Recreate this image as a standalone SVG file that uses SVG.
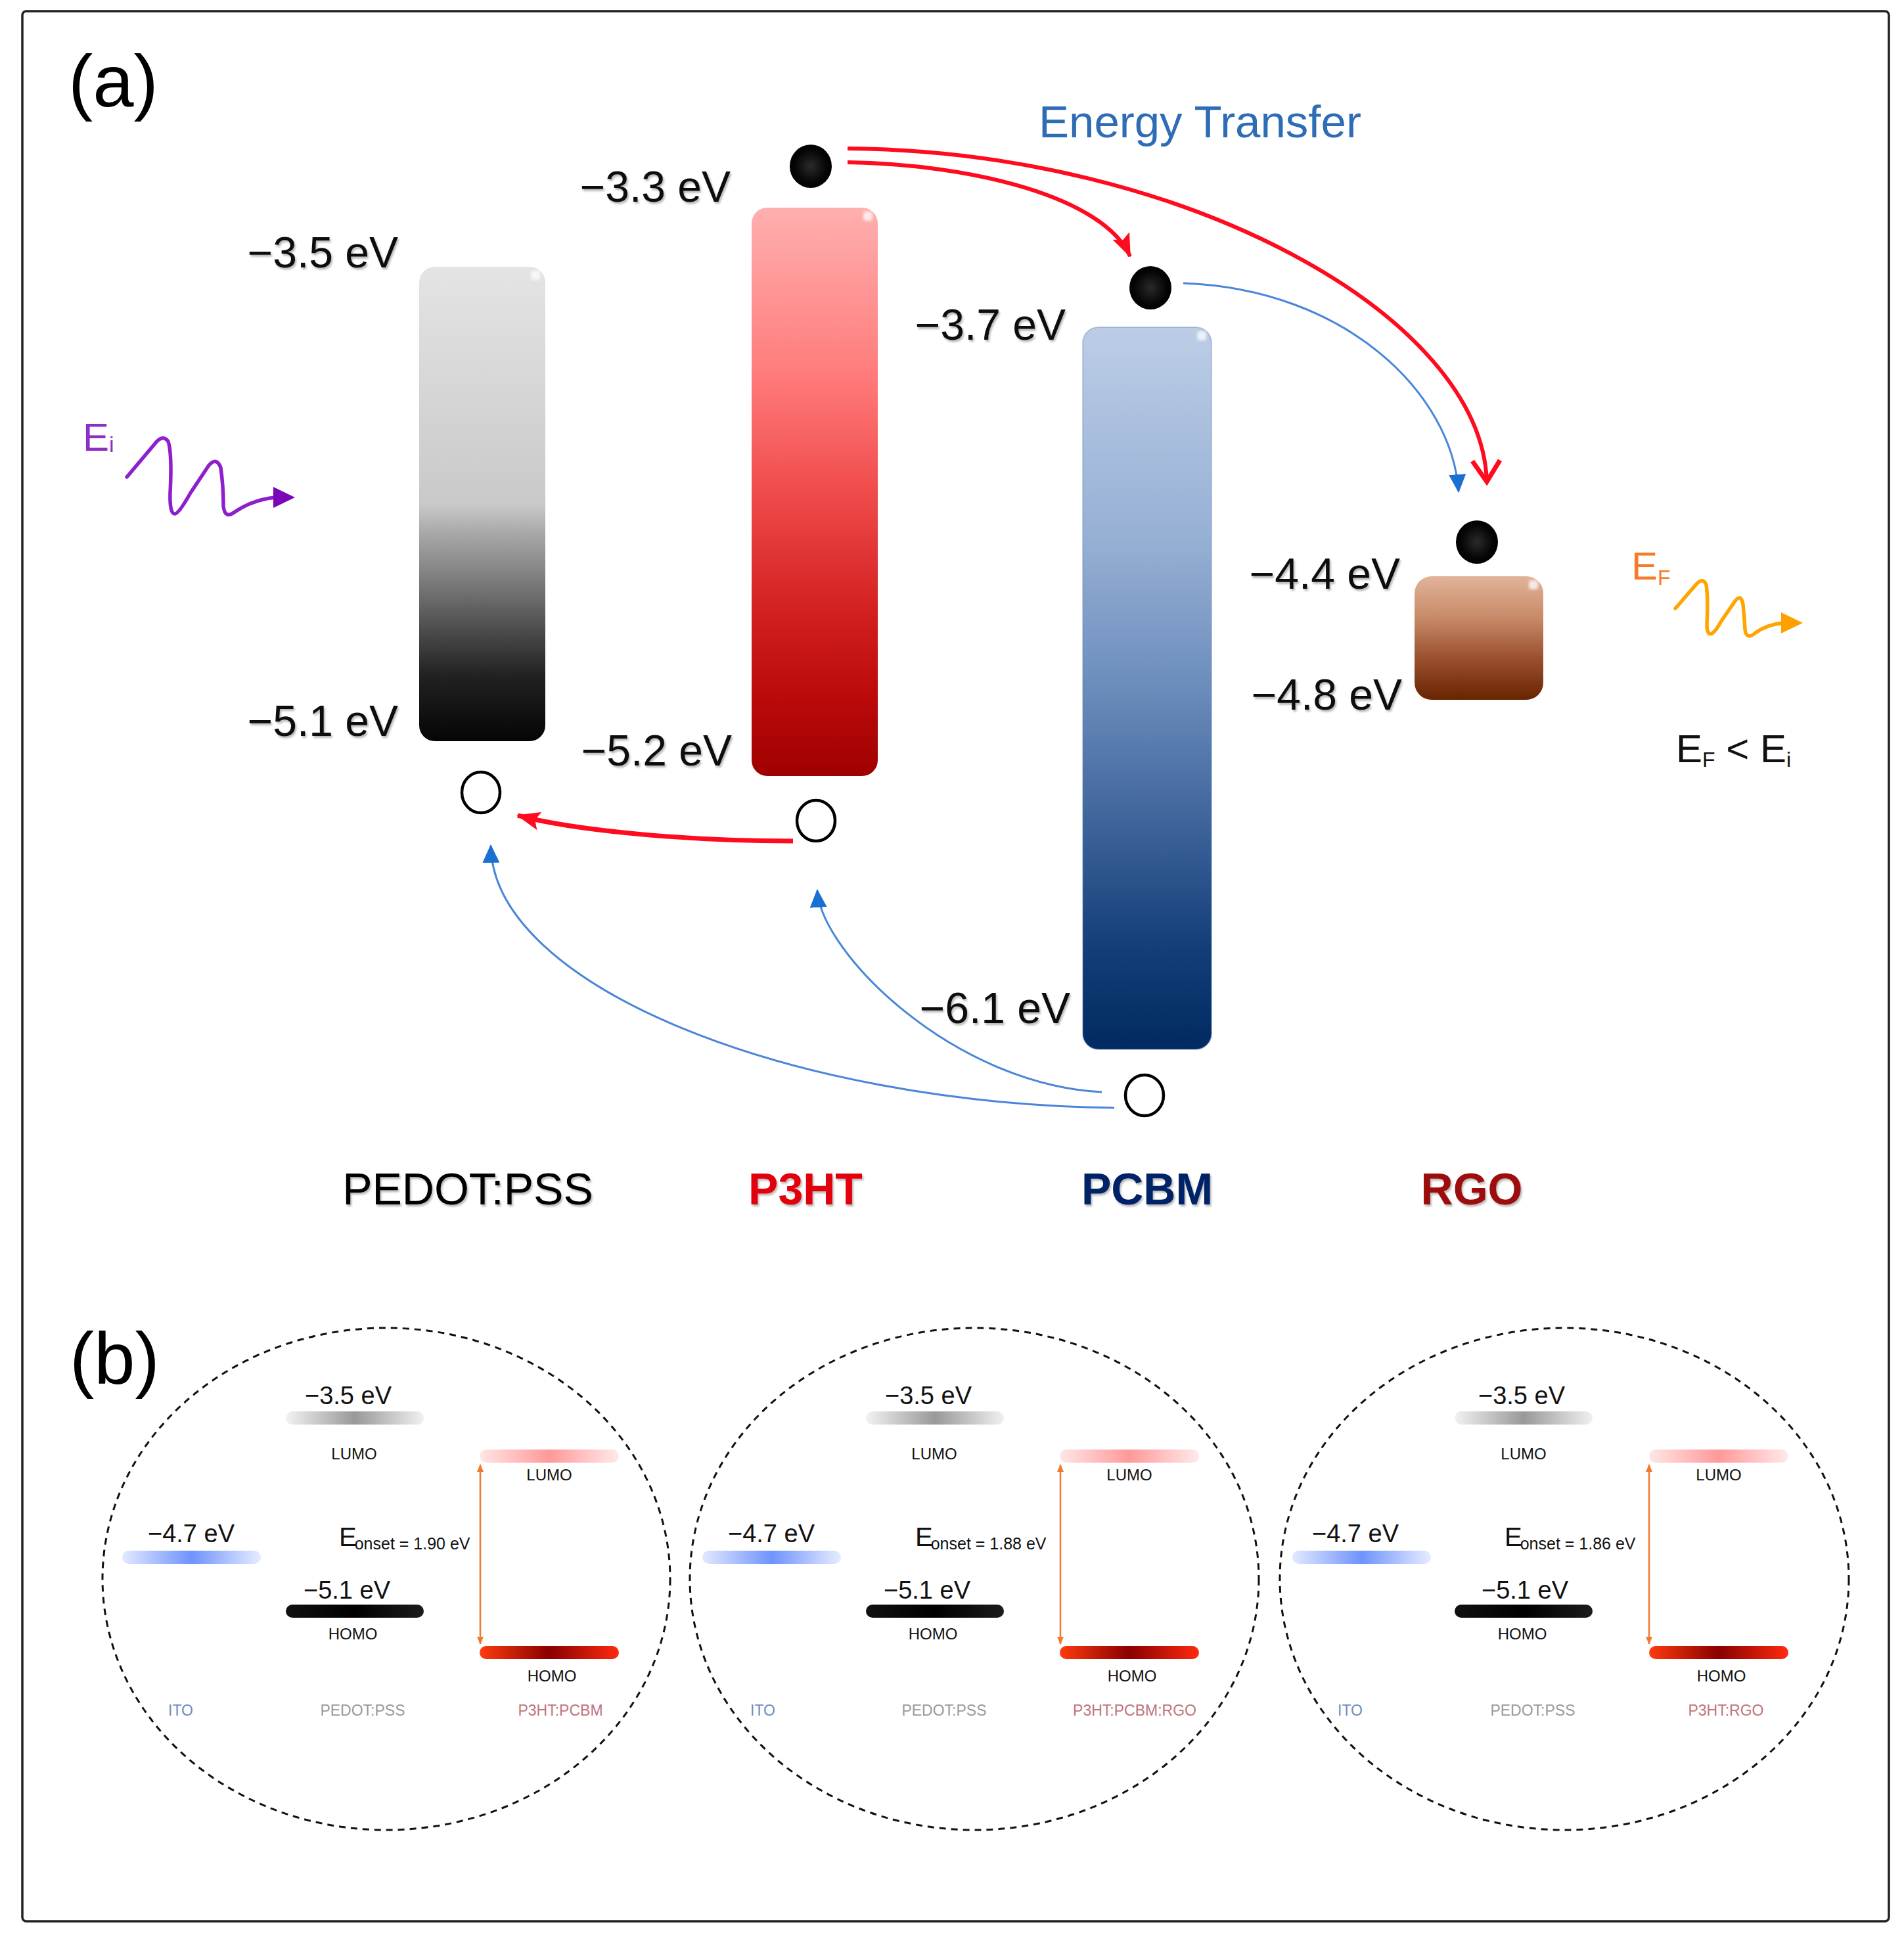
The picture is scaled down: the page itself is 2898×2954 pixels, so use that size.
<svg xmlns="http://www.w3.org/2000/svg" width="2898" height="2954" viewBox="0 0 2898 2954">
<style>
text{font-family:"Liberation Sans",Arial,sans-serif}
.ev{font-size:66px;fill:#111;text-anchor:end;filter:url(#ts)}
.mat{font-size:68px;text-anchor:middle;filter:url(#ts)}
.sev{font-size:38px;fill:#111;text-anchor:middle}
.orb{font-size:24px;fill:#111;text-anchor:middle}
.lay{font-size:23px;text-anchor:middle}
.hole{fill:#fff;stroke:#000;stroke-width:4.5}
.el{fill:url(#gEl)}
.circ{fill:none;stroke:#111;stroke-width:3;stroke-dasharray:10 8}
.eg{fill:none;stroke:#f07a30;stroke-width:2.5;marker-start:url(#mOr);marker-end:url(#mOr)}
.hl{fill:#fff;opacity:0.75;filter:url(#blur)}
</style>
<defs>
<filter id="ts" x="-5%" y="-20%" width="115%" height="150%"><feDropShadow dx="2" dy="3" stdDeviation="1.5" flood-color="#000" flood-opacity="0.28"/></filter>
<filter id="blur"><feGaussianBlur stdDeviation="2"/></filter>
<linearGradient id="gGray" x1="0" y1="0" x2="0" y2="1">
<stop offset="0" stop-color="#e4e4e4"/><stop offset="0.5" stop-color="#c9c9c9"/><stop offset="0.56" stop-color="#a9a9a9"/><stop offset="0.7" stop-color="#6a6a6a"/><stop offset="0.86" stop-color="#222"/><stop offset="1" stop-color="#050505"/>
</linearGradient>
<linearGradient id="gRed" x1="0" y1="0" x2="0" y2="1">
<stop offset="0" stop-color="#ffafaf"/><stop offset="0.3" stop-color="#ff7a7a"/><stop offset="0.5" stop-color="#f04b4b"/><stop offset="0.7" stop-color="#d42222"/><stop offset="0.86" stop-color="#bb0a0a"/><stop offset="1" stop-color="#a00000"/>
</linearGradient>
<linearGradient id="gBlue" x1="0" y1="0" x2="0" y2="1">
<stop offset="0" stop-color="#bccde6"/><stop offset="0.3" stop-color="#95afd4"/><stop offset="0.5" stop-color="#6b8cbb"/><stop offset="0.7" stop-color="#3b6199"/><stop offset="0.86" stop-color="#133e78"/><stop offset="1" stop-color="#002a60"/>
</linearGradient>
<linearGradient id="gBrown" x1="0" y1="0" x2="0" y2="1">
<stop offset="0" stop-color="#e2b39a"/><stop offset="0.35" stop-color="#c68866"/><stop offset="0.65" stop-color="#9c5230"/><stop offset="1" stop-color="#682400"/>
</linearGradient>
<radialGradient id="gEl" cx="0.5" cy="0.5" r="0.55">
<stop offset="0" stop-color="#2a2a2a"/><stop offset="0.7" stop-color="#050505"/><stop offset="1" stop-color="#000"/>
</radialGradient>
<linearGradient id="pGray" x1="0" y1="0" x2="1" y2="0">
<stop offset="0" stop-color="#f2f2f2"/><stop offset="0.5" stop-color="#999"/><stop offset="1" stop-color="#f0f0f0"/>
</linearGradient>
<linearGradient id="pBlack" x1="0" y1="0" x2="1" y2="0">
<stop offset="0" stop-color="#111"/><stop offset="0.5" stop-color="#000"/><stop offset="1" stop-color="#1c1c1c"/>
</linearGradient>
<linearGradient id="pBlue" x1="0" y1="0" x2="1" y2="0">
<stop offset="0" stop-color="#e2e9ff"/><stop offset="0.5" stop-color="#6f93ff"/><stop offset="1" stop-color="#e6ecff"/>
</linearGradient>
<linearGradient id="pPink" x1="0" y1="0" x2="1" y2="0">
<stop offset="0" stop-color="#ffe6e6"/><stop offset="0.5" stop-color="#ff9999"/><stop offset="1" stop-color="#ffeaea"/>
</linearGradient>
<linearGradient id="pRed" x1="0" y1="0" x2="1" y2="0">
<stop offset="0" stop-color="#ff3a10"/><stop offset="0.5" stop-color="#8a0000"/><stop offset="1" stop-color="#ff2a10"/>
</linearGradient>
<marker id="mRed" viewBox="0 0 36 28" refX="34" refY="14" markerWidth="36" markerHeight="28" markerUnits="userSpaceOnUse" orient="auto">
<path d="M0,0 L36,14 L0,28 L7,14 z" fill="#ff0a1e"/>
</marker>
<marker id="mRedV" viewBox="-6 -6 46 54" refX="32" refY="21" markerWidth="46" markerHeight="54" markerUnits="userSpaceOnUse" orient="auto">
<path d="M0,0 L32,21 L0,42" fill="none" stroke="#ff0a1e" stroke-width="7"/>
</marker>
<marker id="mBlue" viewBox="0 0 28 26" refX="26" refY="13" markerWidth="28" markerHeight="26" markerUnits="userSpaceOnUse" orient="auto">
<path d="M0,0 L28,13 L0,26 z" fill="#1a6fd1"/>
</marker>
<marker id="mOr" viewBox="0 0 12 10" refX="11" refY="5" markerWidth="12" markerHeight="10" markerUnits="userSpaceOnUse" orient="auto-start-reverse">
<path d="M0,0 L12,5 L0,10 z" fill="#f07a30"/>
</marker>
</defs>

<rect x="34" y="17" width="2841" height="2907" rx="6" fill="#fff" stroke="#222" stroke-width="3.5"/>

<text x="104" y="162" font-size="112" fill="#000">(a)</text>

<g id="pedot-bar">
<rect x="638" y="406" width="192" height="722" rx="24" fill="url(#gGray)"/>
<rect class="hl" x="808" y="412" width="14" height="14" rx="4"/>
<text class="ev" x="606" y="407">−3.5 eV</text>
<text class="ev" x="606" y="1120">−5.1 eV</text>
</g>
<g id="p3ht-bar">
<rect x="1144" y="316" width="192" height="865" rx="24" fill="url(#gRed)"/>
<rect class="hl" x="1314" y="322" width="14" height="14" rx="4"/>
<text class="ev" x="1112" y="307">−3.3 eV</text>
<text class="ev" x="1114" y="1165">−5.2 eV</text>
</g>
<g id="pcbm-bar">
<rect x="1648" y="498" width="196" height="1099" rx="24" fill="url(#gBlue)" stroke="#5a7fb5" stroke-opacity="0.35" stroke-width="2"/>
<rect class="hl" x="1822" y="504" width="14" height="14" rx="4"/>
<text class="ev" x="1622" y="517">−3.7 eV</text>
<text class="ev" x="1629" y="1557">−6.1 eV</text>
</g>
<g id="rgo-box">
<rect x="2153" y="877" width="196" height="188" rx="26" fill="url(#gBrown)"/>
<rect class="hl" x="2327" y="883" width="14" height="14" rx="4"/>
<text class="ev" x="2131" y="896">−4.4 eV</text>
<text class="ev" x="2134" y="1080">−4.8 eV</text>
</g>

<g id="electron-p3ht"><ellipse class="el" cx="1234" cy="253" rx="32" ry="33"/></g>
<g id="electron-pcbm"><ellipse class="el" cx="1751" cy="438" rx="32" ry="33"/></g>
<g id="electron-rgo"><ellipse class="el" cx="2248" cy="825" rx="32" ry="33"/></g>
<g id="hole-pedot"><ellipse class="hole" cx="732" cy="1206" rx="29" ry="31"/></g>
<g id="hole-p3ht"><ellipse class="hole" cx="1242" cy="1249" rx="29" ry="31"/></g>
<g id="hole-pcbm"><ellipse class="hole" cx="1742" cy="1667" rx="29" ry="31"/></g>

<g id="title-energy-transfer">
<text x="1581" y="209" font-size="69" fill="#2e6cb5">Energy Transfer</text>
</g>

<g id="photon-in">
<text x="126" y="686" font-size="60" fill="#8e2ec4">E<tspan font-size="34" dy="2">i</tspan></text>
<path d="M193,726 L236,675 Q248,660 256,672 Q262,690 259,750 Q258,782 266,782 Q272,782 290,750 L318,708 Q330,695 336,712 Q340,740 340,770 Q342,790 356,780 Q385,760 420,757" fill="none" stroke="#8e1fcc" stroke-width="5.5" stroke-linecap="round" stroke-linejoin="round"/>
<polygon points="416,741 449,757 416,773" fill="#7a06b8"/>
</g>
<g id="photon-out">
<text x="2483" y="882" font-size="60" fill="#f57a2a">E<tspan font-size="32" dy="8">F</tspan></text>
<path d="M2550,926 L2582,889 Q2592,878 2597,890 Q2600,910 2598,950 Q2598,968 2606,964 Q2612,960 2620,945 L2640,916 Q2650,902 2653,920 Q2655,940 2656,958 Q2658,975 2672,963 Q2690,950 2715,948" fill="none" stroke="#ffa400" stroke-width="5.5" stroke-linecap="round" stroke-linejoin="round"/>
<polygon points="2711,932 2744,948 2711,964" fill="#ffa000"/>
</g>
<g id="relation">
<text x="2551" y="1160" font-size="60" fill="#111">E<tspan font-size="32" dy="7">F</tspan><tspan dy="-7"> &lt; E</tspan><tspan font-size="32" dy="7">i</tspan></text>
</g>

<g id="material-labels">
<text class="mat" x="712" y="1833" fill="#000" font-size="64">PEDOT:PSS</text>
<text class="mat" x="1226" y="1833" fill="#e3000f" font-weight="bold">P3HT</text>
<text class="mat" x="1746" y="1833" fill="#002366" font-weight="bold">PCBM</text>
<text class="mat" x="2240" y="1833" fill="#9e0a0a" font-weight="bold">RGO</text>
</g>

<g id="connectors">
<path d="M1290,247 C1480,250 1680,300 1720,390" fill="none" stroke="#ff0a1e" stroke-width="6" marker-end="url(#mRed)"/>
<path d="M1290,226 C1800,230 2255,480 2263,733" fill="none" stroke="#ff0a1e" stroke-width="6" marker-end="url(#mRedV)"/>
<path d="M1801,431 C2050,440 2210,600 2220,748" fill="none" stroke="#4a86d8" stroke-width="3" marker-end="url(#mBlue)"/>
<path d="M1207,1280 C1050,1280 880,1265 788,1241" fill="none" stroke="#ff0a1e" stroke-width="7" marker-end="url(#mRed)"/>
<path d="M1696,1686 C1200,1680 750,1500 747,1287" fill="none" stroke="#4a86d8" stroke-width="3" marker-end="url(#mBlue)"/>
<path d="M1677,1662 C1450,1650 1250,1450 1244,1355" fill="none" stroke="#4a86d8" stroke-width="3" marker-end="url(#mBlue)"/>
</g>

<text x="106" y="2106" font-size="112" fill="#000">(b)</text>

<g id="panel-b1">
<ellipse class="circ" cx="588" cy="2403" rx="432" ry="382"/>
<g id="b1-content">
<text class="sev" x="530" y="2137">−3.5 eV</text>
<rect x="435" y="2148" width="210" height="20" rx="10" fill="url(#pGray)"/>
<text class="orb" x="539" y="2221">LUMO</text>
<text class="sev" x="291" y="2347">−4.7 eV</text>
<rect x="186" y="2360" width="211" height="20" rx="10" fill="url(#pBlue)"/>
<text x="516" y="2353" font-size="40" fill="#111">E<tspan font-size="25" dx="-3" dy="5">onset = 1.90 eV</tspan></text>
<text class="sev" x="528" y="2433">−5.1 eV</text>
<rect x="435" y="2442" width="210" height="20" rx="10" fill="url(#pBlack)"/>
<text class="orb" x="537" y="2495">HOMO</text>
<rect x="730" y="2206" width="212" height="20" rx="10" fill="url(#pPink)"/>
<text class="orb" x="836" y="2253">LUMO</text>
<line class="eg" x1="731" y1="2229" x2="731" y2="2502"/>
<rect x="730" y="2505" width="212" height="20" rx="10" fill="url(#pRed)"/>
<text class="orb" x="840" y="2559">HOMO</text>
<text class="lay" x="275" y="2611" fill="#6f8cc0">ITO</text>
<text class="lay" x="552" y="2611" fill="#9a9a9a">PEDOT:PSS</text>
<text class="lay" x="853" y="2611" fill="#c0737a">P3HT:PCBM</text>
</g>
</g>

<g id="panel-b2">
<ellipse class="circ" cx="1483" cy="2403" rx="433" ry="382"/>
<g id="b2-content" transform="translate(883,0)">
<text class="sev" x="530" y="2137">−3.5 eV</text>
<rect x="435" y="2148" width="210" height="20" rx="10" fill="url(#pGray)"/>
<text class="orb" x="539" y="2221">LUMO</text>
<text class="sev" x="291" y="2347">−4.7 eV</text>
<rect x="186" y="2360" width="211" height="20" rx="10" fill="url(#pBlue)"/>
<text x="510" y="2353" font-size="40" fill="#111">E<tspan font-size="25" dx="-3" dy="5">onset = 1.88 eV</tspan></text>
<text class="sev" x="528" y="2433">−5.1 eV</text>
<rect x="435" y="2442" width="210" height="20" rx="10" fill="url(#pBlack)"/>
<text class="orb" x="537" y="2495">HOMO</text>
<rect x="730" y="2206" width="212" height="20" rx="10" fill="url(#pPink)"/>
<text class="orb" x="836" y="2253">LUMO</text>
<line class="eg" x1="731" y1="2229" x2="731" y2="2502"/>
<rect x="730" y="2505" width="212" height="20" rx="10" fill="url(#pRed)"/>
<text class="orb" x="840" y="2559">HOMO</text>
<text class="lay" x="278" y="2611" fill="#6f8cc0">ITO</text>
<text class="lay" x="554" y="2611" fill="#9a9a9a">PEDOT:PSS</text>
<text class="lay" x="844" y="2611" fill="#c0737a">P3HT:PCBM:RGO</text>
</g>
</g>

<g id="panel-b3">
<ellipse class="circ" cx="2381" cy="2403" rx="433" ry="382"/>
<g id="b3-content" transform="translate(1779,0)">
<text class="sev" x="537" y="2137">−3.5 eV</text>
<rect x="435" y="2148" width="210" height="20" rx="10" fill="url(#pGray)"/>
<text class="orb" x="540" y="2221">LUMO</text>
<text class="sev" x="284" y="2347">−4.7 eV</text>
<rect x="188" y="2360" width="211" height="20" rx="10" fill="url(#pBlue)"/>
<text x="511" y="2353" font-size="40" fill="#111">E<tspan font-size="25" dx="-3" dy="5">onset = 1.86 eV</tspan></text>
<text class="sev" x="542" y="2433">−5.1 eV</text>
<rect x="435" y="2442" width="210" height="20" rx="10" fill="url(#pBlack)"/>
<text class="orb" x="538" y="2495">HOMO</text>
<rect x="731" y="2206" width="212" height="20" rx="10" fill="url(#pPink)"/>
<text class="orb" x="837" y="2253">LUMO</text>
<line class="eg" x1="731" y1="2229" x2="731" y2="2502"/>
<rect x="731" y="2505" width="212" height="20" rx="10" fill="url(#pRed)"/>
<text class="orb" x="841" y="2559">HOMO</text>
<text class="lay" x="276" y="2611" fill="#6f8cc0">ITO</text>
<text class="lay" x="554" y="2611" fill="#9a9a9a">PEDOT:PSS</text>
<text class="lay" x="848" y="2611" fill="#c0737a">P3HT:RGO</text>
</g>
</g>
</svg>
